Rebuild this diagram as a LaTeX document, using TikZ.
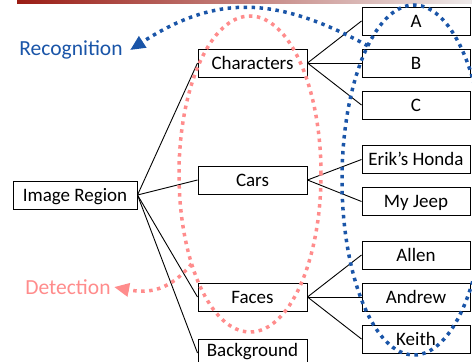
\documentclass[tikz,border=0pt]{standalone}
\usepackage{fontspec}
\setmainfont{Carlito}
\usetikzlibrary{positioning, arrows.meta, shapes.geometric}
\tikzstyle{catbox} =[draw, line width=1pt, minimum width=109pt, minimum height=28pt, inner sep=0pt, text height=16pt, text depth=4pt]
\tikzstyle{leafbox} =[draw, line width=1pt, minimum width=108pt, minimum height=28pt, inner sep=0pt, text height=16pt, text depth=4pt]
\tikzstyle{dotline} =[line width=3.5pt, dash pattern=on 3.5pt off 4.5pt]
\tikzstyle{bigtext} =[font=\fontsize{21.5}{24}\selectfont]
\definecolor{recogBlue}{HTML}{1A55A8}
\definecolor{detectPink}{HTML}{FF8C8C}
\definecolor{barRed}{HTML}{9A1C14}
\definecolor{barLight}{HTML}{EEEAEA}

\begin{document}
\begin{tikzpicture}[x=1pt, y=-1pt, font=\fontsize{19}{22}\selectfont]
\useasboundingbox (0,0) rectangle (472,362);

\shade[left color=barRed, right color=barLight] (17,0) rectangle (472,3);

\node (imgRegion) [catbox, minimum width=124pt] at (75,195) {Image Region};

\node (chars) [catbox] at (252.5,63) {Characters};
\node (cars) [catbox, below=88pt of chars] {Cars};
\node (faces) [catbox, below=88pt of cars] {Faces};
\node (backgr) [catbox, text depth=9pt, below=27pt of faces] {Background};

\node (b) [leafbox, right=54pt of chars] {B};
\node (a) [leafbox, above=13pt of b] {A};
\node (c) [leafbox, below=13pt of b] {C};

\node (erik) [leafbox, right=54pt of cars, yshift=20.5pt] {Erik's Honda};
\node (jeep) [leafbox, below=13pt of erik] {My Jeep};

\node (andrew) [leafbox, right=54pt of faces] {Andrew};
\node (allen) [leafbox, above=13pt of andrew] {Allen};
\node (keith) [leafbox, below=13pt of andrew] {Keith};

\draw[line width=0.9pt]
	(imgRegion.east) edge (chars.west) edge (cars.west) edge (faces.west) edge (backgr.west);
\draw[line width=0.9pt]
	(chars.east) edge (a.west) edge (b.west) edge (c.west);
\draw[line width=0.9pt]
	(cars.east) edge (erik.west) edge (jeep.west);
\draw[line width=0.9pt]
	(faces.east) edge (allen.west) edge (andrew.west) edge (keith.west);

\node (recogLabel) [bigtext, text=recogBlue] at (71,50) {Recognition};
\node (detectLabel) [bigtext, text=detectPink] at (68,287) {Detection};

%rings
\node (detectRing) [ellipse, draw=detectPink, dotline, outer sep=0pt, minimum width=142pt, minimum height=316pt] at (250,174) {};
\node (recogRing) [ellipse, draw=recogBlue, dotline, outer sep=0pt, minimum width=144pt, minimum height=350pt] at (414,180) {};

\draw[recogBlue, dotline, -{Triangle[length=15pt, width=13pt]}]
	(recogRing.109) .. controls (275,-5) and (215,-5) .. ([xshift=4pt]recogLabel.east);
\draw[detectPink, dotline, -{Triangle[length=15pt, width=13pt]}]
	(detectRing.237.5) .. controls (170,290) and (150,294) .. (detectLabel.east);

\end{tikzpicture}
\end{document}
